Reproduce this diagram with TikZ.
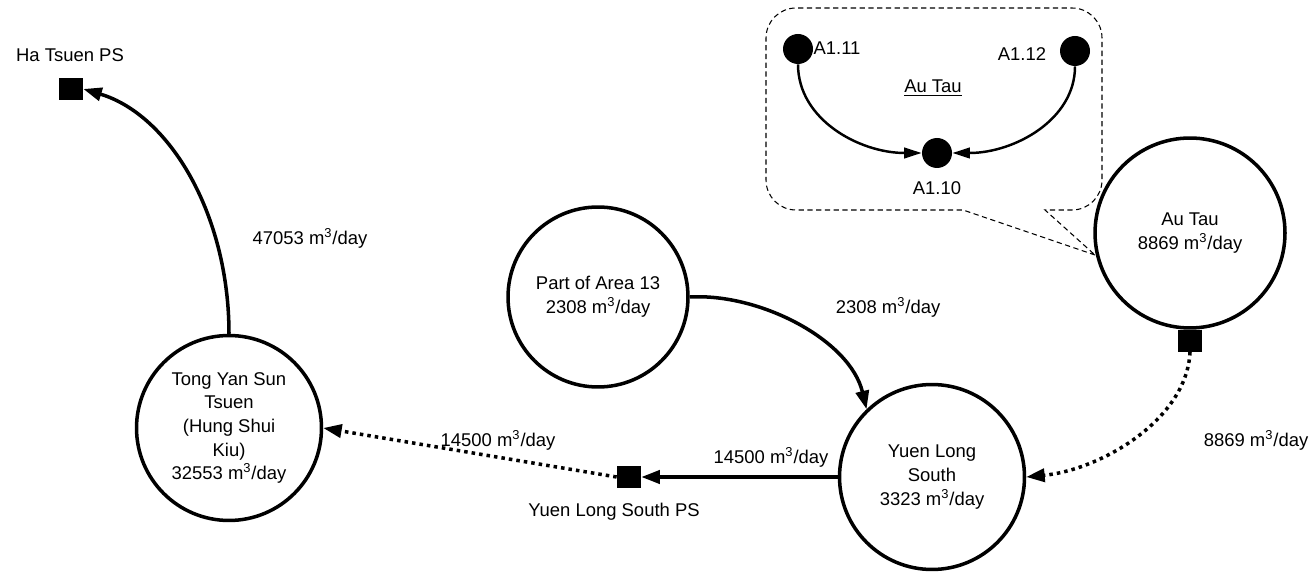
\documentclass[tikz,border=0pt]{standalone}
\usepackage{fontspec}
\setmainfont{Liberation Sans}
\usetikzlibrary{arrows.meta,positioning}

\begin{document}
\begin{tikzpicture}[
        x=0.02cm, y=-0.02cm,
        every node/.style={font=\fontsize{10.5}{13.5}\selectfont},
        site/.style={circle, draw, line width=2pt, align=center, inner sep=0pt},
        ps/.style={rectangle, fill=black, minimum width=0.48cm, minimum height=0.43cm, inner sep=0pt},
        dot/.style={circle, fill=black, minimum size=0.6cm, inner sep=0pt},
        lbl/.style={inner sep=0pt, align=center},
        arrow/.style={-{Triangle[length=10.5pt,width=7.5pt]}, line width=2pt},
        pumped/.style={arrow, dash pattern=on 2pt off 2.3pt},
        inner arrow/.style={-{Triangle[length=10pt,width=6pt]}, line width=1.4pt},
        callout/.style={line width=0.6pt, dash pattern=on 3pt off 2pt}
    ]
        \useasboundingbox (0,0) rectangle (1310,573);

        % catchments
        \node[site, minimum size=3.7cm] (tys) at (229,428) {Tong Yan Sun\\Tsuen\\(Hung Shui\\Kiu)\\32553 m\textsuperscript{3}/day};
        \node[site, minimum size=3.6cm] (area) at (598,297) {Part of Area 13\\2308 m\textsuperscript{3}/day};
        \node[site, minimum size=3.7cm] (yls) at (932,477) {Yuen Long\\South\\3323 m\textsuperscript{3}/day};
        \node[site, minimum size=3.8cm] (autau) at (1190,233) {Au Tau\\8869 m\textsuperscript{3}/day};

        % pumping stations
        \node[ps] (ha) at (71,89) {};
        \node[ps] (ylsps) at (629,477) {};
        \node[ps, below=0pt of autau] (autauout) {};

        \node[lbl] (halbl) at (70,55) {Ha Tsuen PS};
        \node[lbl] (ylspslbl) at (614,512) {Yuen Long South PS};

        % flows
        \draw[arrow] (tys.north) .. controls (229,215) and (170,115) .. (ha.east);
        \draw[arrow] (area.east) .. controls (760,293) and (850,340) .. (yls.134);
        \draw[arrow] (yls.west) -- (ylsps.east);
        \draw[pumped] (ylsps.west) -- (tys.east);
        \draw[pumped] (autauout.south) .. controls (1187,420) and (1100,470) .. (yls.east);

        \node[lbl] (q1) at (310,238) {47053 m\textsuperscript{3}/day};
        \node[lbl] (q2) at (888,307) {2308 m\textsuperscript{3}/day};
        \node[lbl] (q3) at (771,457) {14500 m\textsuperscript{3}/day};
        \node[lbl] (q4) at (498,440) {14500 m\textsuperscript{3}/day};
        \node[lbl] (q5) at (1256,440) {8869 m\textsuperscript{3}/day};

        % Au Tau detail
        \draw[callout] (1095,255) -- (963,210) [rounded corners=0.6cm] -- (766,210) -- (766,8)
            -- (1102,8) -- (1102,210) [sharp corners] -- (1045,210) -- cycle;
        \node[dot] (a111) at (798,49) {};
        \node[dot] (a112) at (1075,51) {};
        \node[dot] (a110) at (937,153) {};
        \node[lbl] (a111lbl) at (837,48) {A1.11};
        \node[lbl] (a112lbl) at (1022,54) {A1.12};
        \node[lbl] (a110lbl) at (937,188) {A1.10};
        \node[lbl] (autaulbl) at (933,88) {\underline{Au Tau}};
        \draw[inner arrow] (a111.south) .. controls (798,120) and (860,153) .. (a110.west);
        \draw[inner arrow] (a112.south) .. controls (1075,120) and (1014,153) .. (a110.east);
    \end{tikzpicture}
\end{document}
